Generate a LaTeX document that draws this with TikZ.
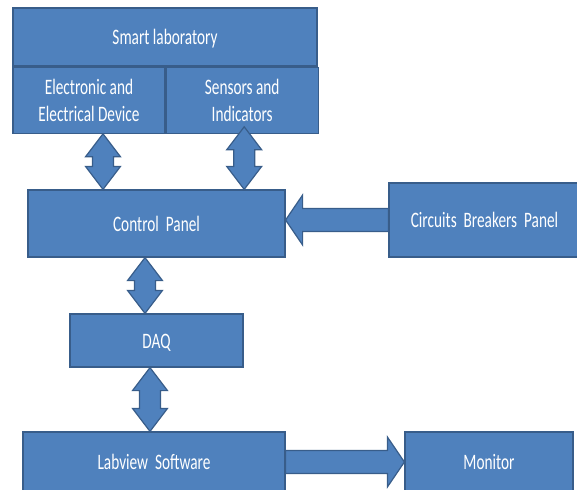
\documentclass[tikz,border=0pt]{standalone}
\usepackage{fontspec}
\setmainfont{Carlito}
\usepackage{graphicx}
\usetikzlibrary{positioning}
\usetikzlibrary{calc}

\definecolor{boxfill}{RGB}{79,129,189}
\definecolor{boxline}{RGB}{56,93,138}

% text of a block, stretched a little upwards
\newcommand{\lbl}[1]{\raisebox{-2.5pt}[\height][\depth]{%
  \scalebox{1.02}[1.47]{\begin{tabular}{@{}c@{}}#1\end{tabular}}}}

% vertical two-headed block arrow, from top point to bottom point
\newcommand{\vdarrow}[2]{%
  \draw[blk] let \p1=(#1), \p2=(#2) in
    (\x1,\y1) -- ({\x1+17.5pt},{\y1-23pt}) -- ({\x1+10.5pt},{\y1-23pt})
    -- ({\x1+10.5pt},{\y2+23pt}) -- ({\x1+17.5pt},{\y2+23pt}) -- (\x1,\y2)
    -- ({\x1-17.5pt},{\y2+23pt}) -- ({\x1-10.5pt},{\y2+23pt})
    -- ({\x1-10.5pt},{\y1-23pt}) -- ({\x1-17.5pt},{\y1-23pt}) -- cycle;}

% horizontal one-headed block arrow
\newcommand{\hsarrow}[2]{%
  \draw[blk] let \p1=(#1), \p2=(#2), \n1={sign(\x2-\x1)} in
    (\x1,{\y1+11.5pt}) -- ({\x2-\n1*17pt},{\y1+11.5pt}) -- ({\x2-\n1*17pt},{\y1+25pt})
    -- (\x2,\y1) -- ({\x2-\n1*17pt},{\y1-25pt}) -- ({\x2-\n1*17pt},{\y1-11.5pt})
    -- (\x1,{\y1-11.5pt}) -- cycle;}

\begin{document}
\begin{tikzpicture}
  [x=1pt, y=-1pt,
   box/.style={draw=boxline, fill=boxfill, line width=1.2pt, text=white,
      inner sep=0pt, font=\fontsize{15}{18}\selectfont},
   blk/.style={draw=boxline, fill=boxfill, line width=1.2pt, line join=miter},
  ]
  \useasboundingbox (0,0) rectangle (577,489);

  \node[box, minimum width=304, minimum height=58] (smart) at (165,37)
       {\lbl{Smart laboratory}};
  \node[box, minimum width=152, minimum height=66,
        below right=0pt of smart.south west] (elec)
       {\lbl{Electronic and\\Electrical Device}};
  \node[box, minimum width=152, minimum height=66, right=0pt of elec] (sens)
       {\lbl{Sensors and\\Indicators}};
  \node[box, minimum width=257, minimum height=67] (ctrl) at (156.5,223.5)
       {\lbl{Control~~Panel}};
  \node[box, minimum width=191, minimum height=74] (cbp) at (484.5,220)
       {\lbl{Circuits~~Breakers~~Panel}};
  \node[box, minimum width=173, minimum height=53] (daq) at (156.5,340.5)
       {\lbl{DAQ}};
  \node[box, minimum width=262, minimum height=60] (lab) at (154,462)
       {\lbl{Labview~~Software}};
  \node[box, minimum width=168, minimum height=60] (mon) at (489,462)
       {\lbl{Monitor}};

  \coordinate (a1) at ($(elec.south)+(14,0)$);
  \coordinate (a2) at ($(sens.south)+(2,-7)$);
  \coordinate (a3) at ($(ctrl.south)+(-11.5,0)$);
  \coordinate (a4) at ($(daq.south)+(-6.5,0)$);

  \vdarrow{a1}{a1 |- ctrl.north}
  \vdarrow{a2}{a2 |- ctrl.north}
  \vdarrow{a3}{a3 |- daq.north}
  \vdarrow{a4}{a4 |- lab.north}
  \hsarrow{cbp.west}{ctrl.east |- cbp.west}
  \hsarrow{lab.east}{mon.west}
\end{tikzpicture}
\end{document}
